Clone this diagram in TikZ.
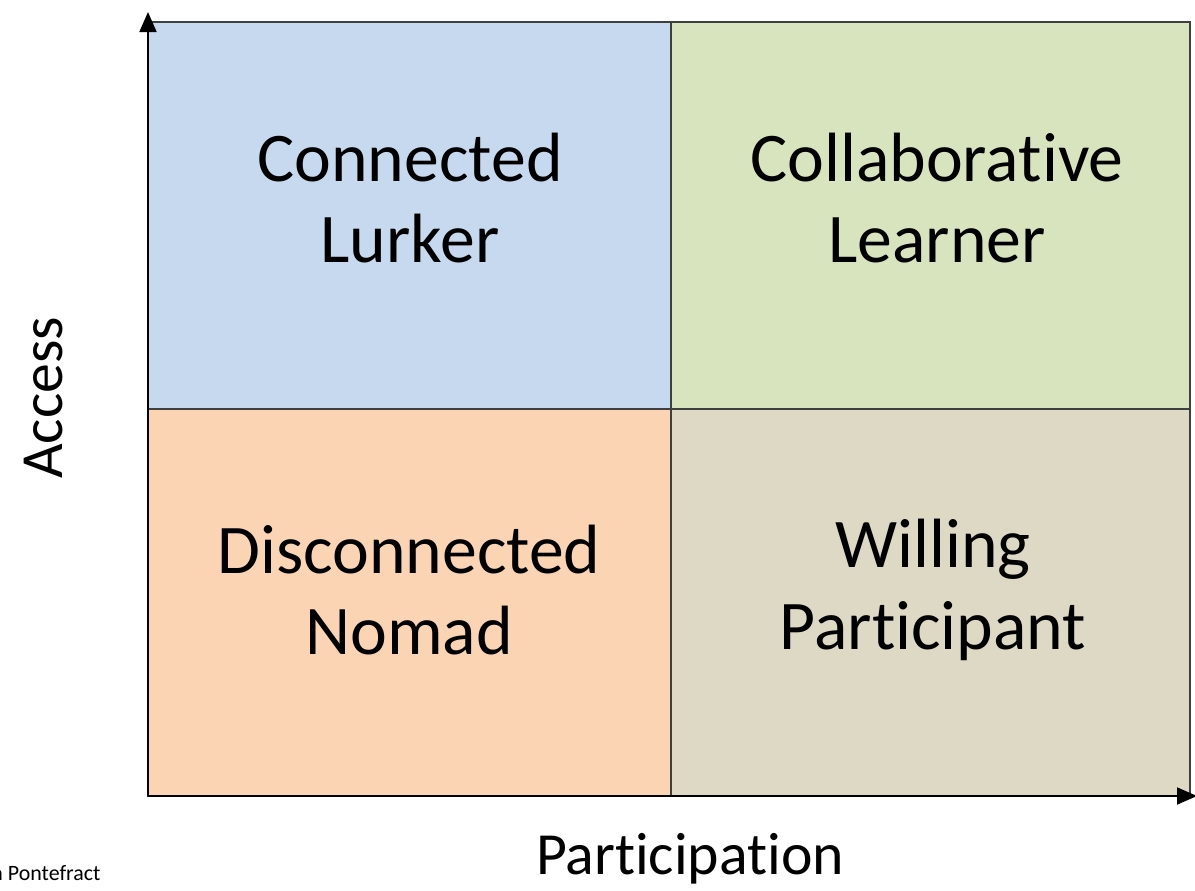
\documentclass[tikz,border=0pt]{standalone}
\usepackage{fontspec}
\setmainfont{Carlito}[Ligatures=NoCommon]
\usetikzlibrary{arrows.meta}
\definecolor{qblue}{HTML}{C6D9EF}
\definecolor{qgreen}{HTML}{D8E4BD}
\definecolor{qorange}{HTML}{FBD4B4}
\definecolor{qtan}{HTML}{DDD9C4}
\definecolor{qline}{HTML}{3F3F3F}
\begin{document}
\begin{tikzpicture}[x=1bp,y=-1bp,
  quad/.style={draw=qline,line width=1.8bp},
  lbl/.style={font=\fontsize{70}{82}\selectfont,align=center,text=black},
  axlbl/.style={font=\fontsize{60}{70}\selectfont,text=black},
  axis/.style={draw=black,line width=1.8bp,-{Triangle[length=20bp,width=17bp]}}]
\useasboundingbox (0,0) rectangle (1195,891);
\fill[white] (0,0) rectangle (1195,891);
% quadrants
\filldraw[quad,fill=qblue] (148,22) rectangle (671,409);
\filldraw[quad,fill=qgreen] (671,22) rectangle (1190,409);
\filldraw[quad,fill=qorange] (148,409) rectangle (671,796);
\filldraw[quad,fill=qtan] (671,409) rectangle (1190,796);
% labels
\node[lbl] (cl) at (410,198) {Connected\\Lurker};
\node[lbl] (col) at (937,198) {Collaborative\\Learner};
\node[lbl] (dn) at (409,590) {Disconnected\\Nomad};
\node[lbl] (wp) at (933,590) {Willing\\Participant};
% axes
\coordinate (o) at (148,796);
\coordinate (ytip) at (148,12);
\coordinate (xtip) at (1197,796);
\draw[axis] (o) -- (ytip);
\draw[axis] (o) -- (xtip);
\node[axlbl,rotate=90] (acc) at (44,398) {Access};
\node[axlbl] (part) at (690,859) {Participation};
\node[font=\fontsize{22}{26}\selectfont,anchor=base east] (credit) at (104,880) {n Pontefract};
\end{tikzpicture}
\end{document}
